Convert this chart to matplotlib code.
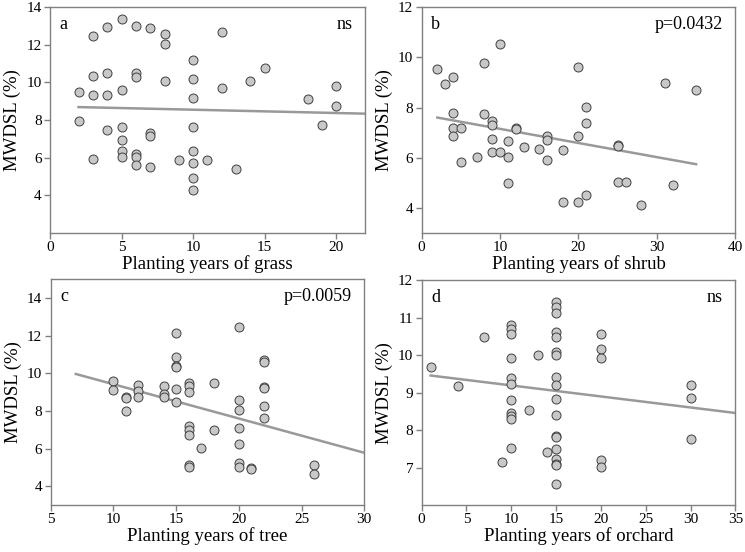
import matplotlib
matplotlib.use("Agg")
import matplotlib.pyplot as plt

plt.rcParams["font.family"] = ["Liberation Serif", "DejaVu Serif"]

# ---------------------------------------------------------------------------
# Data
# ---------------------------------------------------------------------------

grass_x = [5, 4, 6, 7, 3, 8, 8, 12, 10, 15, 3, 4, 6, 6, 8, 10, 14, 20, 2, 3,
           4, 5, 12, 10, 18, 20, 2, 4, 5, 7, 7, 10, 19, 5, 5, 5, 3, 6, 6, 6,
           7, 9, 10, 10, 11, 13, 10, 10]
grass_y = [13.38, 12.97, 13.0, 12.87, 12.48, 12.57, 12.05, 12.69, 11.17, 10.76,
           10.35, 10.5, 10.51, 10.3, 10.07, 10.2, 10.09, 9.82, 9.47, 9.31,
           9.35, 9.6, 9.73, 9.17, 9.12, 8.76, 7.93, 7.47, 7.63, 7.29,
           7.15, 7.63, 7.73, 6.92, 6.37, 6.02, 5.91, 6.19, 6.04, 5.59,
           5.52, 5.89, 6.34, 5.73, 5.89, 5.4, 4.9, 4.27]
grass_fit_x = [2, 22]
grass_fit_y = [8.69, 8.34]

shrub_x = [10, 8, 2, 4, 3, 20, 31, 35, 21, 4, 8, 9, 9, 21, 4, 5, 12, 12, 4, 16,
           16, 20, 9, 11, 13, 15, 18, 25, 25, 9, 10, 7, 11, 5, 16, 11, 25, 26,
           32, 21, 18, 20, 28]
shrub_y = [10.52, 9.76, 9.52, 9.23, 8.92, 9.63, 8.96, 8.71, 8.04, 7.79,
           7.73, 7.47, 7.31, 7.37, 7.18, 7.19, 7.2, 7.16, 6.86, 6.88,
           6.72, 6.88, 6.76, 6.68, 6.42, 6.33, 6.31, 6.51, 6.46, 6.22,
           6.23, 6.01, 6.01, 5.81, 5.91, 5.01, 5.03, 5.03, 4.91, 4.52,
           4.23, 4.23, 4.1]
shrub_fit_x = [2, 35]
shrub_fit_y = [7.6, 5.74]

tree_x = [15, 20, 15, 15, 15, 22, 22, 10, 10, 11, 11, 11, 12, 12, 12, 14, 14,
          14, 15, 15, 16, 16, 16, 18, 22, 22, 20, 20, 22, 22, 16, 16, 16, 18,
          20, 17, 20, 16, 16, 20, 20, 21, 21, 26, 26]
tree_y = [12.17, 12.45, 10.88, 10.4, 10.35, 10.72, 10.61, 9.62, 9.11, 8.75,
          8.7, 8.01, 9.39, 9.05, 8.72, 9.32, 8.91, 8.72, 9.19, 8.5,
          9.5, 9.34, 9.0, 9.5, 9.28, 9.23, 8.61, 8.08, 8.27, 7.64,
          7.18, 6.98, 6.7, 7.0, 7.11, 6.01, 6.24, 5.12, 5.02, 5.23,
          5.02, 4.98, 4.91, 5.12, 4.66]
tree_fit_x = [7, 30]
tree_fit_y = [9.97, 5.78]

orchard_x = [1, 4, 7, 9, 10, 10, 10, 10, 10, 10, 10, 10, 10, 10, 10, 12, 13,
             14, 15, 15, 15, 15, 15, 15, 15, 15, 15, 15, 15, 15, 15, 15, 15,
             15, 15, 15, 20, 20, 20, 20, 20, 30, 30, 30]
orchard_y = [9.7, 9.17, 10.5, 7.14, 10.82, 10.71, 10.58, 9.93, 9.4, 9.23,
             8.81, 8.45, 8.38, 8.3, 7.53, 8.55, 10.0, 7.41, 11.43, 11.3,
             11.14, 10.61, 10.5, 10.1, 10.0, 9.43, 9.2, 8.83, 8.41, 7.85,
             7.81, 7.5, 7.23, 7.11, 7.07, 6.57, 10.57, 10.17, 9.94, 7.2,
             7.03, 9.21, 8.86, 7.76]
orchard_fit_x = [1, 35]
orchard_fit_y = [9.46, 8.46]

# ---------------------------------------------------------------------------
# Figure
# ---------------------------------------------------------------------------

SPINE = "#808080"

panels = [
    # x, y, fit_x, fit_y, letter, note, xlabel, xlim, xticks, ylim, yticks, rect
    (grass_x, grass_y, grass_fit_x, grass_fit_y, "a", "ns",
     "Planting years of grass", (0, 22), range(0, 21, 5), (2, 14), range(4, 15, 2),
     [0.067, 0.578, 0.423, 0.409]),
    (shrub_x, shrub_y, shrub_fit_x, shrub_fit_y, "b", "p=0.0432",
     "Planting years of shrub", (0, 40), range(0, 41, 10), (3, 12), range(4, 13, 2),
     [0.566, 0.578, 0.421, 0.409]),
    (tree_x, tree_y, tree_fit_x, tree_fit_y, "c", "p=0.0059",
     "Planting years of tree", (5, 30), range(5, 31, 5), (3, 15), range(4, 15, 2),
     [0.068, 0.085, 0.421, 0.409]),
    (orchard_x, orchard_y, orchard_fit_x, orchard_fit_y, "d", "ns",
     "Planting years of orchard", (0, 35), range(0, 36, 5), (6, 12), range(7, 13, 1),
     [0.566, 0.085, 0.421, 0.407]),
]

fig = plt.figure(figsize=(7.45, 5.52), dpi=100)

for (x, y, fx, fy, letter, note, xlabel, xlim, xticks, ylim, yticks, rect) in panels:
    ax = fig.add_axes(rect)
    ax.plot(fx, fy, color="#999999", linewidth=1.8, zorder=2)
    ax.scatter(x, y, s=42, facecolor="#c8c8c8", edgecolor="#404040",
               linewidth=0.7, zorder=3)
    ax.set_xlim(*xlim)
    ax.set_ylim(*ylim)
    ax.set_xticks(list(xticks))
    ax.set_yticks(list(yticks))
    for s in ax.spines.values():
        s.set_color(SPINE)
        s.set_linewidth(1.0)
    ax.tick_params(direction="out", color=SPINE, length=4, width=1.0,
                   labelsize=11, pad=2)
    ax.set_xlabel(xlabel, fontsize=13.5, labelpad=0.5)
    ax.set_ylabel("MWDSL (%)", fontsize=13.5, labelpad=4)
    ax.text(0.03, 0.96, letter, transform=ax.transAxes, fontsize=13,
            ha="left", va="top")
    ax.text(0.96, 0.96, note, transform=ax.transAxes, fontsize=13,
            ha="right", va="top")

fig.savefig("out.png", dpi=100)
